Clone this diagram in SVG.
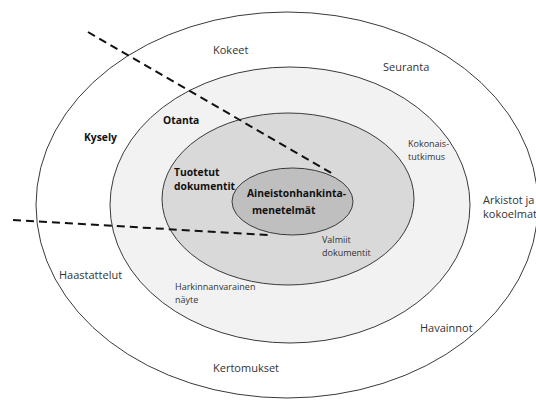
<svg xmlns="http://www.w3.org/2000/svg" width="536" height="401" viewBox="0 0 536 401">
  <style>
    .ring { stroke: #3a3a3a; stroke-width: 1; }
    .lbl { font-family: "Open Sans", "Noto Sans", sans-serif; font-size: 11px; fill: #333333; }
    .sm { font-size: 9px; }
    .b { font-weight: bold; font-size: 10.3px; fill: #111111; }
    .cut { stroke: #111111; stroke-width: 2; stroke-dasharray: 8 5; fill: none; }
  </style>
  <rect width="536" height="401" fill="#ffffff"/>

  <g id="ring-outer">
    <ellipse class="ring" cx="287" cy="205" rx="251" ry="193" fill="#ffffff"/>
    <text class="lbl" x="213" y="54">Kokeet</text>
    <text class="lbl" x="383" y="71">Seuranta</text>
    <text class="lbl b" x="84" y="141">Kysely</text>
    <text class="lbl" x="483" y="204">Arkistot ja</text>
    <text class="lbl" x="483" y="218">kokoelmat</text>
    <text class="lbl" x="59" y="279">Haastattelut</text>
    <text class="lbl" x="420" y="332">Havainnot</text>
    <text class="lbl" x="213" y="372">Kertomukset</text>
  </g>

  <g id="ring-sample">
    <ellipse class="ring" cx="290" cy="205" rx="180" ry="138" fill="#f2f2f2"/>
    <text class="lbl b" x="163" y="124">Otanta</text>
    <text class="lbl sm" x="175" y="290">Harkinnanvarainen</text>
    <text class="lbl sm" x="175" y="303">näyte</text>
  </g>

  <g id="ring-documents">
    <ellipse class="ring" cx="288" cy="199" rx="126" ry="86" fill="#d9d9d9"/>
    <text class="lbl b" x="174" y="176">Tuotetut</text>
    <text class="lbl b" x="174" y="190">dokumentit</text>
    <text class="lbl sm" x="408" y="147">Kokonais-</text>
    <text class="lbl sm" x="408" y="160">tutkimus</text>
    <text class="lbl sm" x="322" y="243">Valmiit</text>
    <text class="lbl sm" x="322" y="256">dokumentit</text>
  </g>

  <g id="core">
    <ellipse class="ring" cx="292.5" cy="201.5" rx="60.5" ry="33.5" fill="#bfbfbf"/>
    <text class="lbl b" x="247" y="197">Aineistonhankinta-</text>
    <text class="lbl b" x="252" y="214">menetelmät</text>
  </g>

  <g id="connectors">
    <line class="cut" x1="88" y1="32" x2="333" y2="174"/>
    <polyline class="cut" points="13,220 268,235 271,234"/>
  </g>
</svg>
